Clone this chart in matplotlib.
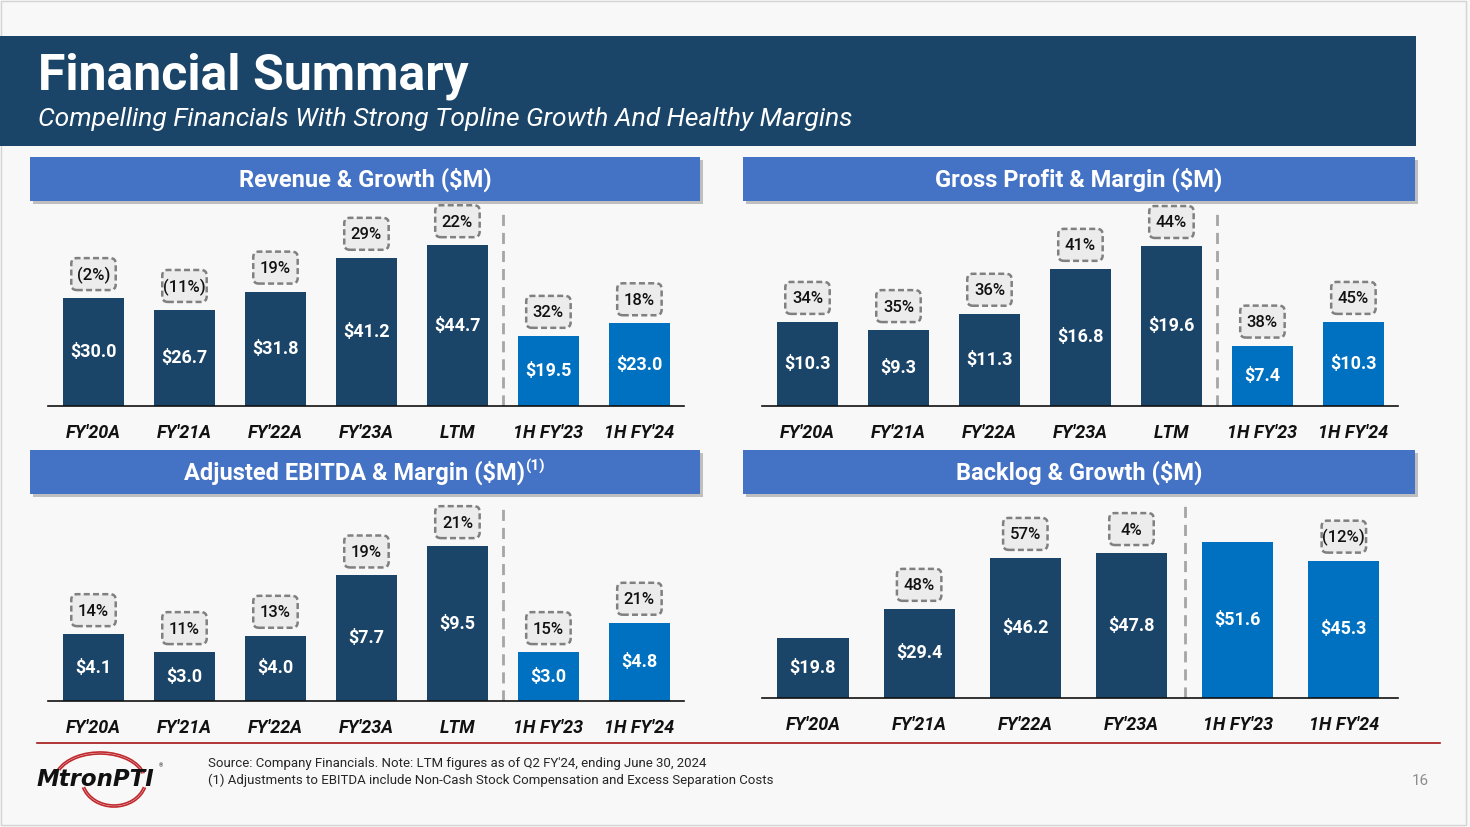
import matplotlib
matplotlib.use("Agg")
import matplotlib.pyplot as plt
from matplotlib.patches import Rectangle, Arc, FancyBboxPatch
from matplotlib.offsetbox import DrawingArea, AnnotationBbox

plt.rcParams['font.family'] = ['Roboto', 'DejaVu Sans']

# ---- data ----
categories = ["FY'20A", "FY'21A", "FY'22A", "FY'23A", "LTM", "1H FY'23", "1H FY'24"]
revenue = [30.0, 26.7, 31.8, 41.2, 44.7, 19.5, 23.0]
revenue_growth = ["(2%)", "(11%)", "19%", "29%", "22%", "32%", "18%"]
gross_profit = [10.3, 9.3, 11.3, 16.8, 19.6, 7.4, 10.3]
gross_margin = ["34%", "35%", "36%", "41%", "44%", "38%", "45%"]
ebitda = [4.1, 3.0, 4.0, 7.7, 9.5, 3.0, 4.8]
ebitda_margin = ["14%", "11%", "13%", "19%", "21%", "15%", "21%"]
backlog_categories = ["FY'20A", "FY'21A", "FY'22A", "FY'23A", "1H FY'23", "1H FY'24"]
backlog = [19.8, 29.4, 46.2, 47.8, 51.6, 45.3]
backlog_growth = [None, "48%", "57%", "4%", None, "(12%)"]

DARK = '#1b4568'
LIGHT = '#0070c0'
HEAD = '#4472c4'
BG = '#f8f8f8'
W, H = 1470, 827

fig = plt.figure(figsize=(W / 100, H / 100), dpi=100, facecolor=BG)

# overlay in pixel coordinates for slide decoration
bg = fig.add_axes([0, 0, 1, 1])
bg.set_xlim(0, W)
bg.set_ylim(H, 0)
bg.axis('off')

bg.add_patch(Rectangle((1, 1), W - 5, H - 3, fc='none', ec='#d4d4d4', lw=1))
bg.add_patch(Rectangle((0, 36), 1416, 110, fc=DARK, ec='none'))
bg.text(38, 76, "Financial Summary", color='white', fontsize=36, fontweight='bold',
        va='center', ha='left')
bg.text(38, 119, "Compelling Financials With Strong Topline Growth And Healthy Margins",
        color='white', fontsize=19, style='italic', va='center', ha='left')

headers = [
    (30, 157, 670, "Revenue & Growth ($M)"),
    (743, 157, 672, "Gross Profit & Margin ($M)"),
    (30, 450, 670, "Adjusted EBITDA & Margin ($M)"),
    (743, 450, 672, "Backlog & Growth ($M)"),
]
for x0, y0, w, title in headers:
    bg.add_patch(Rectangle((x0 + 3, y0 + 3), w, 44, fc='#9a9a9a', ec='none', alpha=0.6))
    bg.add_patch(Rectangle((x0, y0), w, 44, fc=HEAD, ec='none'))
    cx = x0 + w / 2
    if title.startswith("Adjusted"):
        t = bg.text(cx - 10, y0 + 23, title, color='white', fontsize=17, fontweight='bold',
                    ha='center', va='center')
        bg.annotate("(1)", xy=(1, 1), xycoords=t, xytext=(0, 1), textcoords='offset points',
                    color='white', fontsize=11, fontweight='bold', ha='left', va='top')
    else:
        bg.text(cx, y0 + 23, title, color='white', fontsize=17, fontweight='bold',
                ha='center', va='center')

# footer
bg.plot([37, 1440], [743, 743], color='#a31515', lw=1.2)
bg.text(208, 763, "Source: Company Financials. Note: LTM figures as of Q2 FY'24, ending June 30, 2024",
        fontsize=9.5, color='#262626', va='center', ha='left')
bg.text(208, 780, "(1) Adjustments to EBITDA include Non-Cash Stock Compensation and Excess Separation Costs",
        fontsize=9.5, color='#262626', va='center', ha='left')
bg.text(1420, 781, "16", fontsize=11, color='#8c8c8c', ha='center', va='center')

# logo
for d in (0, 4):
    bg.add_patch(Arc((100, 781), 92 - d, 58 - d, theta1=195, theta2=350, color='#c0282d', lw=1.2))
    bg.add_patch(Arc((114, 779), 66 - d, 56 - d, theta1=15, theta2=165, color='#c0282d', lw=1.2))
bg.text(37, 779, "MtronPTI", fontsize=16.5, fontweight='bold', style='italic', color='#111111',
        ha='left', va='center', family='DejaVu Sans')
bg.text(161, 766, "®", fontsize=4, color='#111111', ha='center', va='center')


def px_rect(x0, y0, x1, y1):
    return [x0 / W, 1 - y1 / H, (x1 - x0) / W, (y1 - y0) / H]


def growth_box(ax, x, y, label):
    wpt, hpt = 35, 26
    da = DrawingArea(wpt, hpt, 0, 0)
    da.add_artist(FancyBboxPatch((1.5, 1.5), wpt - 3, hpt - 3,
                                 boxstyle='round,pad=0,rounding_size=4',
                                 fc='#ececec', ec='#808080', lw=1.8, ls=(0, (2.4, 1.3))))
    ab = AnnotationBbox(da, (x, y), xybox=(0, 24), boxcoords='offset pixels',
                        frameon=False, box_alignment=(0.5, 0.5), pad=0, zorder=3)
    ax.add_artist(ab)
    ax.annotate(label, xy=(x, y), xytext=(0, 23), textcoords='offset pixels',
                ha='center', va='center', fontsize=12, color='#111111',
                fontweight='medium', zorder=4)


def bar_panel(rect, cats, values, labels, n_dark, ymax, xlim):
    ax = fig.add_axes(px_rect(*rect))
    ax.set_facecolor('none')
    xs = list(range(len(cats)))
    colors = [DARK] * n_dark + [LIGHT] * (len(cats) - n_dark)
    ax.bar(xs, values, width=0.67, color=colors, zorder=2)
    for x, v, lab in zip(xs, values, labels):
        ax.text(x, v / 2, f"${v:.1f}", color='white', fontsize=13, fontweight='bold',
                ha='center', va='center', zorder=3)
        if lab is not None:
            growth_box(ax, x, v, lab)
    ax.axvline(n_dark - 0.5, ymin=0, ymax=0.97, color='#a6a6a6', lw=2, ls=(0, (4, 2.5)), zorder=1)
    ax.set_xlim(*xlim)
    ax.set_ylim(0, ymax)
    ax.set_xticks(xs)
    ax.set_xticklabels(cats, fontsize=13, fontweight='bold', style='italic', color='#111111')
    ax.tick_params(axis='x', length=0, pad=13)
    ax.set_yticks([])
    for s in ('top', 'right', 'left'):
        ax.spines[s].set_visible(False)
    ax.spines['bottom'].set_color('#111111')
    ax.spines['bottom'].set_linewidth(1.2)
    return ax


bar_panel((48, 206, 684, 406), categories, revenue, revenue_growth, 5, 55.6, (-0.5, 6.49))
bar_panel((762, 206, 1398, 406), categories, gross_profit, gross_margin, 5, 24.5, (-0.5, 6.49))
bar_panel((48, 500, 684, 701), categories, ebitda, ebitda_margin, 5, 12.33, (-0.5, 6.49))
bar_panel((762, 500, 1398, 698), backlog_categories, backlog, backlog_growth, 4, 65.3, (-0.48, 5.51))

fig.savefig("out.png", dpi=100, facecolor=BG)
